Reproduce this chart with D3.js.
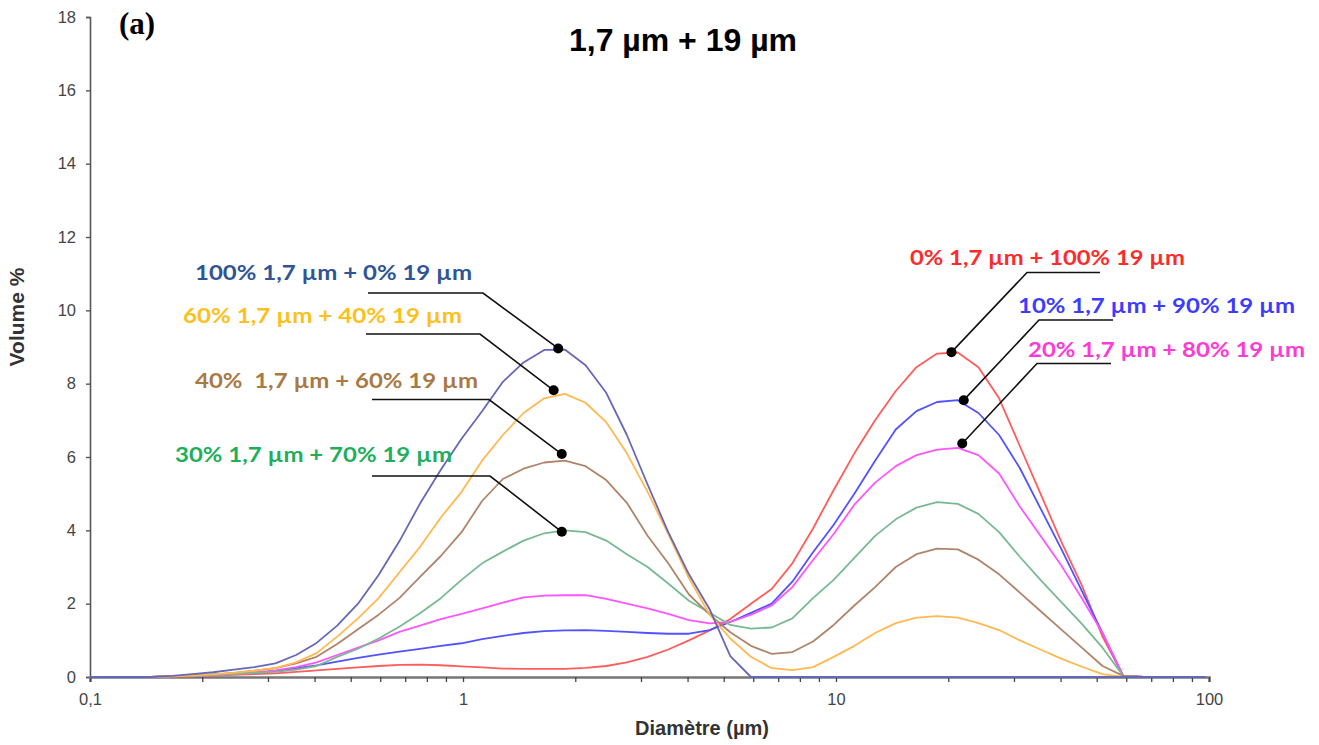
<!DOCTYPE html>
<html><head><meta charset="utf-8">
<script src="https://cdn.jsdelivr.net/npm/d3@7"></script>
<style>html,body{margin:0;padding:0;background:#fff;}svg{display:block;}</style>
</head><body>
<svg id="chart" width="1319" height="745"></svg>
<script>
// Diameters (µm) of the size classes
const diameters = [0.0995,0.113,0.128,0.146,0.166,0.188,0.214,0.243,0.276,0.314,0.357,0.405,0.460,0.523,0.594,0.675,0.767,0.872,0.991,1.125,1.279,1.453,1.651,1.875,2.131,2.421,2.750,3.125,3.550,4.034,4.583,5.207,5.916,6.722,7.637,8.677,9.858,11.20,12.73,14.46,16.43,18.66,21.21,24.09,27.37,31.10,35.33,40.14,45.61,51.82,58.88,66.90,76.01,86.36,98.11];

// Volume % for each mixture
const mix100_0 = [0,0,0,0, 0.03,0.08,0.13,0.2,0.27,0.37,0.6,0.93,1.4,2.0,2.78,3.7,4.73,5.65,6.5,7.25,8.05,8.58,8.92,8.93,8.5,7.75,6.6,5.25,3.95,2.8,1.85,0.57, 0,0,0,0,0,0,0,0,0,0,0,0,0,0,0,0,0,0,0,0,0,0,0];
const mix60_40 = [0,0,0,0, 0.02,0.04,0.07,0.11,0.17,0.24,0.4,0.65,1.1,1.6,2.15,2.85,3.55,4.35,5.05,5.9,6.6,7.2,7.6,7.72,7.48,6.95,6.1,5.05,3.9,2.7,1.7,1.05,0.55,0.24,0.19,0.27,0.55,0.85,1.2,1.47,1.62,1.66,1.62,1.47,1.28,1.0,0.75,0.5,0.28,0.08,0, 0,0,0,0];
const mix40_60 = [0,0,0,0, 0.02,0.04,0.07,0.11,0.17,0.24,0.37,0.55,0.9,1.3,1.7,2.15,2.73,3.3,3.95,4.8,5.4,5.68,5.85,5.9,5.75,5.37,4.75,3.85,3.1,2.25,1.7,1.22,0.85,0.63,0.68,0.97,1.42,1.95,2.45,3.0,3.35,3.5,3.48,3.2,2.8,2.3,1.8,1.3,0.8,0.3,0.03, 0,0,0,0];
const mix30_70 = [0,0,0,0, 0.02,0.03,0.05,0.08,0.11,0.14,0.2,0.3,0.55,0.77,1.05,1.37,1.74,2.15,2.65,3.1,3.42,3.72,3.92,4.0,3.95,3.72,3.35,3.0,2.55,2.08,1.75,1.42,1.32,1.35,1.6,2.15,2.65,3.25,3.85,4.3,4.62,4.77,4.72,4.45,3.95,3.28,2.65,2.05,1.45,0.8,0.03, 0,0,0,0];
const mix20_80 = [0,0,0,0, 0.02,0.03,0.05,0.08,0.12,0.18,0.27,0.4,0.6,0.8,1.0,1.23,1.4,1.58,1.72,1.87,2.03,2.17,2.22,2.23,2.23,2.13,2.0,1.87,1.72,1.55,1.46,1.5,1.7,1.95,2.45,3.19,3.9,4.7,5.3,5.75,6.05,6.2,6.25,6.05,5.55,4.65,3.85,3.05,2.15,1.2,0.03, 0,0,0,0];
const mix10_90 = [0,0,0,0, 0.02,0.04,0.06,0.09,0.12,0.16,0.24,0.32,0.42,0.52,0.61,0.69,0.77,0.85,0.92,1.03,1.12,1.2,1.25,1.27,1.28,1.26,1.23,1.2,1.18,1.18,1.28,1.5,1.75,2.0,2.6,3.4,4.15,5.0,5.9,6.75,7.25,7.5,7.55,7.2,6.6,5.7,4.6,3.5,2.35,1.2,0.03, 0,0,0,0];
const mix0_100 = [0,0,0,0, 0.01,0.02,0.04,0.06,0.08,0.1,0.14,0.18,0.22,0.26,0.3,0.33,0.34,0.32,0.29,0.26,0.23,0.22,0.22,0.22,0.25,0.3,0.4,0.55,0.75,1.0,1.27,1.58,2.0,2.4,3.1,4.05,5.1,6.1,7.0,7.8,8.45,8.82,8.85,8.45,7.6,6.3,5.0,3.7,2.5,1.1,0.03, 0,0,0,0];

// Series labels, drawing order (bottom to top)
const seriesNames = ["0% 1,7 µm + 100% 19 µm","10% 1,7 µm + 90% 19 µm","20% 1,7 µm + 80% 19 µm","30% 1,7 µm + 70% 19 µm","40%  1,7 µm + 60% 19 µm","60% 1,7 µm + 40% 19 µm","100% 1,7 µm + 0% 19 µm"];
const seriesValues = [mix0_100, mix10_90, mix20_80, mix30_70, mix40_60, mix60_40, mix100_0];
// Annotated points (diameter, volume %) per series
const anchorD = [20.4, 22.0, 21.8, 1.84, 1.84, 1.75, 1.80];
const anchorV = [8.86, 7.55, 6.37, 3.96, 6.08, 7.82, 8.96];

const yTicks = [0,2,4,6,8,10,12,14,16,18];
const xLabelTicks = [0.1,1,10,100];
const xLabelText = ["0,1","1","10","100"];

// Styles and layout
const lineColors = ["#ff5c5c","#5252ff","#ff55ff","#78b994","#b0846a","#ffb950","#6767b8"];
const textColors = ["#ff2a2a","#3c3cff","#ff3ad4","#1fae5c","#a97a45","#ffbf1a","#2f5597"];
// label layout: [textX, baseline, textLength, elbowX, elbowY, endX]
const labelLayout = [
  [910,265,275,1027,272.5,1100],
  [1018,313,277,1039,320,1113],
  [1028,357,277,1037,363.5,1111],
  [175,462,277,490,476,372],
  [195,388,283,489,399.5,372],
  [183,323,279,480,334,366],
  [195,280,277,483,293,368]
];

const svg = d3.select("#chart");
const x = d3.scaleLog().domain([0.1,100]).range([90,1209]);
const y = d3.scaleLinear().domain([0,18]).range([677,17]);

// Y axis
const yAxis = svg.append("g").attr("transform","translate(90,0)")
  .call(d3.axisLeft(y).tickValues(yTicks).tickSize(4).tickPadding(10).tickFormat(d3.format("d")));
yAxis.attr("font-size",null);
yAxis.select(".domain").attr("stroke","#555").attr("stroke-width",1.6);
yAxis.selectAll(".tick line").attr("stroke","#555").attr("stroke-width",1.4);
yAxis.selectAll(".tick text").style("font-family","'Liberation Sans', Arial, sans-serif").style("font-size","16.5px").attr("fill","#444");

// X axis
const xTickVals = [];
[0.1,1,10].forEach(b => { for (let i=1;i<10;i++) xTickVals.push(+(b*i).toPrecision(3)); });
xTickVals.push(100);
const xAxis = svg.append("g").attr("transform","translate(0,677)")
  .call(d3.axisBottom(x).tickValues(xTickVals).tickSize(5).tickPadding(11)
    .tickFormat(d => { const i = xLabelTicks.indexOf(d); return i >= 0 ? xLabelText[i] : ""; }));
xAxis.select(".domain").attr("stroke","#777").attr("stroke-width",2.5);
xAxis.selectAll(".tick line").attr("stroke","#444").attr("stroke-width",1.3);
xAxis.selectAll(".tick text").style("font-family","'Liberation Sans', Arial, sans-serif").style("font-size","16.5px").attr("fill","#444");

// Lines
const line = d3.line().x((d,i) => x(diameters[i])).y(d => y(d));
seriesValues.forEach((vals, s) => {
  svg.append("path").datum(vals).attr("d", line)
    .attr("fill","none").attr("stroke", lineColors[s]).attr("stroke-width",1.8)
    .attr("stroke-linejoin","round");
});

// Annotations
seriesNames.forEach((name, s) => {
  const [tx, ty, tl, ex, ey, hx] = labelLayout[s];
  const px = x(anchorD[s]), py = y(anchorV[s]);
  svg.append("polyline")
    .attr("points", `${hx},${ey} ${ex},${ey} ${px},${py}`)
    .attr("fill","none").attr("stroke","#111").attr("stroke-width",1.6);
  svg.append("circle").attr("cx",px).attr("cy",py).attr("r",5).attr("fill","#000");
  svg.append("text").attr("x",tx).attr("y",ty).text(name)
    .attr("font-family","Lato, 'Open Sans', sans-serif").attr("font-weight","bold")
    .attr("font-size",20).attr("fill",textColors[s])
    .attr("textLength",tl).attr("lengthAdjust","spacingAndGlyphs")
    .style("white-space","pre");
});

// Titles
svg.append("text").attr("x",683).attr("y",51).attr("text-anchor","middle")
  .attr("font-family","Liberation Sans, Arial, sans-serif").attr("font-weight","bold")
  .attr("font-size",32).attr("fill","#000").text("1,7 µm + 19 µm");
svg.append("text").attr("x",119).attr("y",34)
  .attr("font-family","Liberation Serif, 'Times New Roman', serif").attr("font-weight","bold")
  .attr("font-size",31).attr("fill","#000").text("(a)");
svg.append("text").attr("x",702).attr("y",735).attr("text-anchor","middle")
  .attr("font-family","Liberation Sans, Arial, sans-serif").attr("font-weight","bold")
  .attr("font-size",20).attr("fill","#333").text("Diamètre (µm)");
svg.append("text").attr("transform","translate(24,317) rotate(-90)").attr("text-anchor","middle")
  .attr("font-family","Liberation Sans, Arial, sans-serif").attr("font-weight","bold")
  .attr("font-size",21).attr("fill","#333").text("Volume %");
</script>
</body></html>
